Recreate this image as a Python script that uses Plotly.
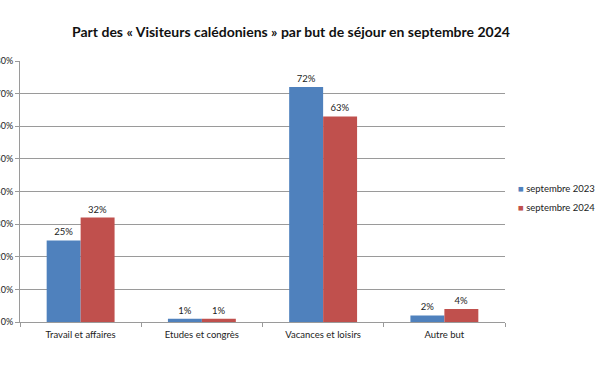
import plotly.graph_objects as go

categories = ["Travail et affaires", "Etudes et congrès", "Vacances et loisirs", "Autre but"]
sept_2023 = [0.25, 0.01, 0.72, 0.02]
sept_2024 = [0.32, 0.01, 0.63, 0.04]
series_names = ["septembre 2023", "septembre 2024"]
y_ticks = [0, 0.1, 0.2, 0.3, 0.4, 0.5, 0.6, 0.7, 0.8]
y_tick_labels = ["0%", "10%", "20%", "30%", "40%", "50%", "60%", "70%", "80%"]

colors = ["#4F81BD", "#C0504D"]
font = "Lato, 'Open Sans', sans-serif"

fig = go.Figure()
for name, vals, col in zip(series_names, [sept_2023, sept_2024], colors):
    fig.add_trace(go.Bar(
        x=categories, y=vals, name=name,
        marker=dict(color=col, line=dict(width=0)),
        text=[f"{round(v*100)}%" for v in vals],
        textposition="outside",
        textfont=dict(size=9.5, color="#222"),
        cliponaxis=False,
        showlegend=False,
    ))

# legend drawn as annotations (compact Excel-like legend)
legend_y = [0.513, 0.437]
for name, col, ly in zip(series_names, colors, legend_y):
    fig.add_annotation(
        xref="paper", yref="paper", x=1.022, y=ly, xanchor="left", yanchor="middle",
        text=f"<span style='color:{col}'>■</span> {name}",
        showarrow=False, font=dict(size=9.5, color="#222", family=font),
    )

fig.update_layout(
    width=600, height=372,
    barmode="group", bargap=0.44, bargroupgap=0,
    plot_bgcolor="white", paper_bgcolor="white",
    font=dict(family=font, size=9, color="#222"),
    margin=dict(l=20, r=95, t=61, b=50, autoexpand=False),
    title=dict(text="<b>Part des « Visiteurs calédoniens » par but de séjour en septembre 2024</b>",
               x=0.485, xanchor="center", y=0.915, yanchor="middle",
               font=dict(size=14, color="#111", family=font)),
    showlegend=False,
)
fig.update_yaxes(
    range=[0, 0.8], tickvals=y_ticks, ticktext=y_tick_labels,
    showgrid=True, gridcolor="#9a9a9a", gridwidth=1,
    showline=True, linecolor="#9a9a9a", linewidth=1,
    ticks="outside", ticklen=4, tickcolor="#9a9a9a",
    tickfont=dict(size=9, color="#222"), zeroline=False, automargin=False,
)
fig.update_xaxes(
    showline=True, linecolor="#9a9a9a", linewidth=1,
    ticks="outside", tickson="boundaries", ticklen=4, tickcolor="#9a9a9a",
    ticklabelstandoff=4,
    tickfont=dict(size=9.5, color="#222"), automargin=False,
)

fig.write_html("out.html", config={"displayModeBar": False},
               post_script="document.body.style.margin='0';")
